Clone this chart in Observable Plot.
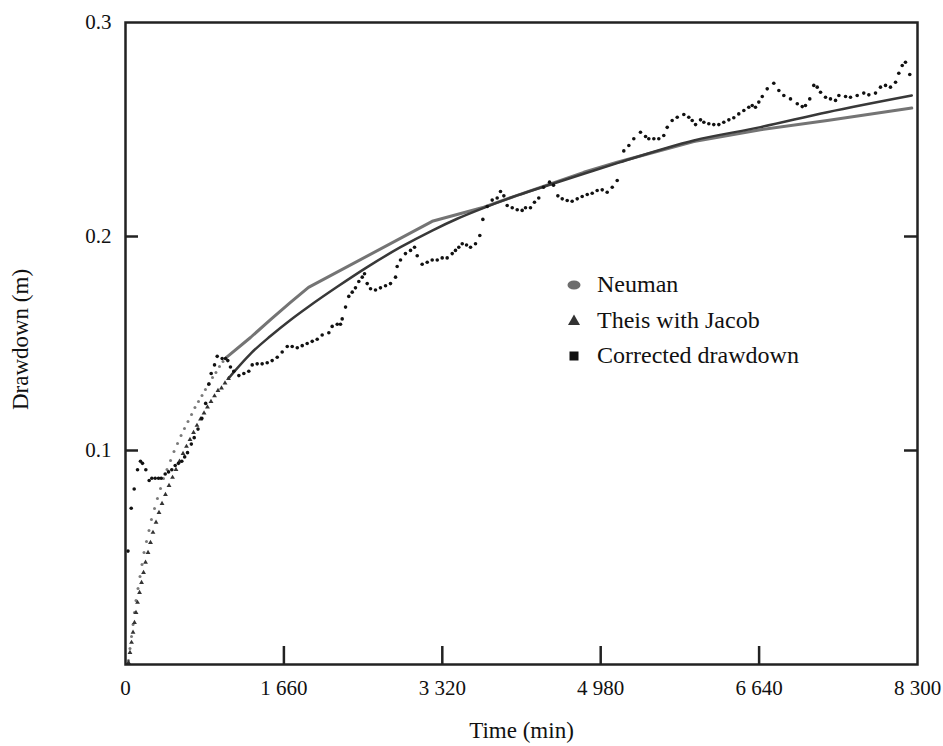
<!DOCTYPE html>
<html><head><meta charset="utf-8">
<script src="https://cdn.jsdelivr.net/npm/d3@7"></script>
<script src="https://cdn.jsdelivr.net/npm/@observablehq/plot@0.6"></script>
<style>
body{margin:0;background:#fff}
#wrap{position:relative;width:943px;height:746px}
#legend{position:absolute;left:566px;top:267px;font-family:"Liberation Serif",serif;font-size:24px;color:#111}
#legend .row{display:flex;align-items:center;height:35.5px}
#legend svg{margin-right:15px}
</style>
</head><body><div id="wrap"><div id="legend"></div></div>
<script>
// ---- data ----
const xTicks = [0, 1660, 3320, 4980, 6640, 8300];
const yTicks = [0.1, 0.2, 0.3];
const legendLabels = ["Neuman", "Theis with Jacob", "Corrected drawdown"];

const corrTime = [26,60,91,126,157,178,213,248,276,311,346,374,416,451,485,521,555,590,620,650,690,720,760,800,840,873,898,933,961,1013,1048,1072,1100,1135,1188,1240,1292,1328,1380,1432,1485,1537,1590,1642,1695,1747,1800,1852,1904,1957,2009,2061,2131,2166,2219,2253,2271,2306,2340,2376,2410,2445,2481,2505,2533,2568,2620,2672,2725,2777,2830,2847,2882,2934,2987,3029,3057,3109,3162,3214,3267,3319,3371,3424,3458,3493,3529,3574,3616,3668,3713,3745,3791,3843,3895,3930,3965,4000,4053,4105,4157,4192,4244,4286,4331,4381,4444,4485,4531,4577,4629,4681,4734,4786,4839,4891,4943,4996,5048,5101,5153,5222,5275,5327,5397,5450,5484,5537,5589,5641,5677,5729,5782,5851,5903,5939,5974,6026,6061,6113,6165,6218,6270,6323,6375,6427,6480,6532,6568,6602,6637,6673,6725,6794,6847,6899,6969,7040,7092,7126,7171,7213,7249,7284,7336,7388,7441,7476,7546,7598,7668,7737,7790,7860,7912,7965,8017,8070,8104,8140,8174,8219];
const corrDrawdown = [0.053,0.073,0.082,0.091,0.095,0.094,0.091,0.086,0.087,0.087,0.087,0.087,0.089,0.090,0.091,0.093,0.094,0.095,0.097,0.099,0.103,0.106,0.110,0.115,0.122,0.131,0.136,0.140,0.144,0.143,0.143,0.142,0.139,0.137,0.135,0.136,0.137,0.140,0.1405,0.1405,0.141,0.142,0.1436,0.146,0.1486,0.1486,0.148,0.149,0.150,0.151,0.152,0.154,0.155,0.158,0.159,0.159,0.1615,0.167,0.172,0.174,0.176,0.179,0.181,0.1826,0.178,0.1756,0.175,0.176,0.177,0.178,0.181,0.186,0.189,0.192,0.1935,0.195,0.191,0.187,0.188,0.189,0.189,0.190,0.190,0.192,0.1935,0.195,0.1966,0.196,0.195,0.1966,0.2005,0.208,0.214,0.217,0.218,0.221,0.219,0.2145,0.2134,0.2125,0.2122,0.2134,0.2134,0.216,0.218,0.223,0.2254,0.224,0.219,0.2176,0.2168,0.2165,0.2176,0.2187,0.2196,0.2202,0.2215,0.2218,0.2207,0.223,0.2262,0.240,0.2425,0.2457,0.2487,0.2467,0.2457,0.2457,0.2457,0.2472,0.251,0.2542,0.2557,0.2570,0.2557,0.2542,0.2523,0.2545,0.2534,0.2527,0.2523,0.2523,0.2534,0.2545,0.2555,0.2573,0.2589,0.2604,0.2612,0.2604,0.2628,0.2654,0.2690,0.2716,0.2682,0.2659,0.2643,0.2620,0.2607,0.2612,0.2643,0.2706,0.2698,0.2674,0.2651,0.2643,0.2636,0.2659,0.2654,0.2651,0.2659,0.2670,0.2662,0.2670,0.2698,0.2706,0.2698,0.2721,0.2763,0.2799,0.2814,0.2757];

// Neuman: early computed points (drawn as markers), then the curve
const neumanTime = [31,47,63,79,94,110,131,152,173,194,220,246,272,304,335,367,398,435,472,508,545,582,618,655,692,728,765,802,838,875,912,948,985,1022,1058,1310,1520,1729,1918,3214,3755,4105,4454,4803,5153,5956,6655,7354,8240];
const neumanDrawdown = [0.0019,0.0075,0.0131,0.0187,0.0243,0.0299,0.0355,0.0411,0.0467,0.0523,0.0575,0.0626,0.0678,0.0729,0.0776,0.0822,0.0869,0.0911,0.0953,0.0995,0.1033,0.1070,0.1103,0.1136,0.1168,0.1201,0.1229,0.1257,0.1285,0.1313,0.1341,0.1364,0.1393,0.1416,0.1435,0.1528,0.1612,0.1692,0.1762,0.2071,0.2137,0.2192,0.2246,0.2300,0.2347,0.2444,0.2499,0.2542,0.2600];
const neumanMarkerEnd = 1058;

// Theis with Jacob: early computed points (markers), then the curve
const theisTime = [31,47,63,79,94,110,126,147,168,189,210,236,262,288,320,351,383,419,456,493,529,566,603,639,676,713,749,786,823,859,896,933,969,1006,1043,1079,1135,1310,1520,1729,1921,2219,2533,2882,3214,3476,3755,4105,4454,4803,5153,5956,6655,7354,8240];
const theisDrawdown = [0.0009,0.0056,0.0103,0.0150,0.0196,0.0243,0.0290,0.0336,0.0383,0.0430,0.0477,0.0523,0.0570,0.0617,0.0664,0.0710,0.0752,0.0794,0.0836,0.0874,0.0911,0.0949,0.0986,0.1019,0.1051,0.1084,0.1117,0.1147,0.1175,0.1203,0.1229,0.1255,0.1280,0.1292,0.1315,0.1336,0.1366,0.1452,0.1535,0.1610,0.1673,0.1765,0.1857,0.1950,0.2028,0.2083,0.2134,0.2192,0.2243,0.2293,0.2343,0.2449,0.2511,0.2581,0.2659];
const theisMarkerEnd = 1079;

// ---- build ----
const corr = corrTime.map((t,i)=>({t, s: corrDrawdown[i]}));
const neuman = neumanTime.map((t,i)=>({t, s: neumanDrawdown[i]}));
const theis = theisTime.map((t,i)=>({t, s: theisDrawdown[i]}));

const FONT = "Liberation Serif";
const fmtX = d => d3.format(",")(d).replace(",", " ");

const chart = Plot.plot({
  width: 943, height: 746,
  marginLeft: 125, marginRight: 26, marginTop: 22, marginBottom: 82,
  style: {fontFamily: FONT, background: "#fff", color: "#111"},
  x: {domain: [0, 8300]},
  y: {domain: [0, 0.3]},
  marks: [
    Plot.line(neuman.filter(d => d.t >= neumanMarkerEnd), {x: "t", y: "s", stroke: "#747474", strokeWidth: 3, curve: "linear"}),
    Plot.line(theis.filter(d => d.t >= theisMarkerEnd), {x: "t", y: "s", stroke: "#383838", strokeWidth: 2.5, curve: "monotone-x"}),
    Plot.dot(neuman.filter(d => d.t <= neumanMarkerEnd), {x: "t", y: "s", r: 1.5, fill: "#7a7a7a", stroke: "none"}),
    Plot.dot(theis.filter(d => d.t <= theisMarkerEnd), {x: "t", y: "s", r: 1.8, symbol: "triangle", fill: "#333", stroke: "none"}),
    Plot.dot(corr, {x: "t", y: "s", r: 1.8, fill: "#111", stroke: "none"}),
    Plot.tickX(xTicks.slice(1, -1), {x: d => d, stroke: "#222", strokeWidth: 2.5, insetTop: 624}),
    Plot.tickY(yTicks.slice(0, -1), {y: d => d, stroke: "#222", strokeWidth: 2.5, insetRight: 779}),
    Plot.tickY(yTicks.slice(0, -1), {y: d => d, stroke: "#222", strokeWidth: 2.5, insetLeft: 779}),
    Plot.frame({stroke: "#222", strokeWidth: 2.5}),
    Plot.axisX(xTicks, {tickSize: 0, tickPadding: 16, tickFormat: fmtX, fontSize: 21, fontFamily: FONT, label: null}),
    Plot.axisY(yTicks, {tickSize: 0, tickPadding: 14, tickFormat: d => d.toFixed(1), fontSize: 21, fontFamily: FONT, label: null}),
    Plot.text(["Time (min)"], {frameAnchor: "bottom", textAnchor: "middle", dy: 73, fontSize: 23, fontFamily: FONT, fill: "#111"}),
    Plot.text(["Drawdown (m)"], {frameAnchor: "left", textAnchor: "middle", dx: -105, dy: -4, rotate: -90, fontSize: 23, fontFamily: FONT, fill: "#111"})
  ]
});
document.getElementById("wrap").prepend(chart);

// legend
const symbols = [
  '<svg width="16" height="14"><ellipse cx="8" cy="7" rx="6.5" ry="4.5" fill="#6d6d6d"/></svg>',
  '<svg width="16" height="14"><path d="M8,1.5 L14,12 L2,12 Z" fill="#333"/></svg>',
  '<svg width="16" height="14"><rect x="3.5" y="2.5" width="9" height="9" fill="#111"/></svg>'
];
const lg = document.getElementById("legend");
legendLabels.forEach((lab, i) => {
  const row = document.createElement("div");
  row.className = "row";
  row.innerHTML = symbols[i] + "<span>" + lab + "</span>";
  lg.appendChild(row);
});
</script></body></html>
